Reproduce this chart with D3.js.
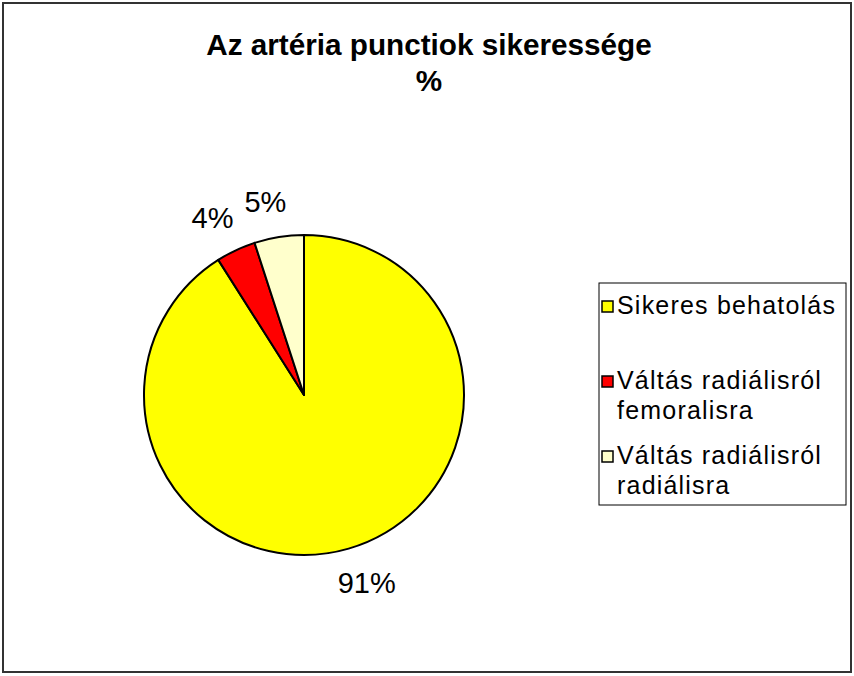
<!DOCTYPE html>
<html>
<head>
<meta charset="utf-8">
<script src="https://cdn.jsdelivr.net/npm/d3@7"></script>
<style>
  body { margin: 0; background: #fff; }
  svg { display: block; font-family: Arial, "Liberation Sans", sans-serif; }
</style>
</head>
<body>
<svg></svg>
<script>
// adatok
const categories = [ 'Sikeres behatolás', 'Váltás radiálisról femoralisra', 'Váltás radiálisról radiálisra' ]
const legendLines = [ [ 'Sikeres behatolás' ], [ 'Váltás radiálisról', 'femoralisra' ], [ 'Váltás radiálisról', 'radiálisra' ] ]
const values = [ 91, 4, 5 ]
const colors = [ '#ffff00', '#ff0000', '#ffffcc' ]
const titleLines = [ 'Az artéria punctiok sikeressége', '%' ]

const WIDTH = 854,
	HEIGHT = 676,
	cx = 304,
	cy = 395,
	radius = 160

const svg = d3.select( 'svg' )
	.attr( 'width', WIDTH )
	.attr( 'height', HEIGHT )

// keret
svg.append( 'rect' )
	.attr( 'x', 3 ).attr( 'y', 3 )
	.attr( 'width', 848 ).attr( 'height', 669 )
	.attr( 'fill', '#fff' )
	.attr( 'stroke', '#333' )
	.attr( 'stroke-width', 2 )

// cim
svg.append( 'g' )
	.selectAll( 'text' )
	.data( titleLines )
	.join( 'text' )
	.attr( 'x', 429 )
	.attr( 'y', ( d, i ) => 55 + i * 36 )
	.attr( 'text-anchor', 'middle' )
	.attr( 'font-weight', 'bold' )
	.attr( 'font-size', 29.7 )
	.text( d => d )

const pie = d3.pie().sort( null ).value( d => d )
const arcs = pie( values )
const arc = d3.arc().innerRadius( 0 ).outerRadius( radius )
const labelArc = d3.arc().innerRadius( radius + 36 ).outerRadius( radius + 36 )

const g = svg.append( 'g' ).attr( 'transform', `translate( ${cx}, ${cy} )` )

g.selectAll( 'path' )
	.data( arcs )
	.join( 'path' )
	.attr( 'd', arc )
	.attr( 'fill', ( d, i ) => colors[i] )
	.attr( 'stroke', '#000' )
	.attr( 'stroke-width', 2 )
	.attr( 'stroke-linejoin', 'round' )

// cimkek: a kozeppont kicsit a szelet oldala fele tolva
g.selectAll( 'text' )
	.data( arcs )
	.join( 'text' )
	.attr( 'transform', d => {
		const [ x, y ] = labelArc.centroid( d )
		return `translate( ${x + Math.sign( x ) * 8}, ${y} )`
	} )
	.attr( 'text-anchor', 'middle' )
	.attr( 'dy', '0.35em' )
	.attr( 'font-size', 29 )
	.text( d => Math.round( d.data ) + '%' )

// jelmagyarazat
const legend = svg.append( 'g' ).attr( 'transform', 'translate( 599, 283 )' )

legend.append( 'rect' )
	.attr( 'width', 247 ).attr( 'height', 222 )
	.attr( 'fill', '#fff' )
	.attr( 'stroke', '#000' )
	.attr( 'stroke-width', 1 )

const rowY = [ 31, 106, 181 ]

const items = legend.selectAll( 'g.item' )
	.data( categories )
	.join( 'g' )
	.attr( 'class', 'item' )
	.attr( 'transform', ( d, i ) => `translate( 0, ${rowY[i]} )` )

items.append( 'rect' )
	.attr( 'x', 3 ).attr( 'y', -13 )
	.attr( 'width', 11 ).attr( 'height', 11 )
	.attr( 'fill', ( d, i ) => colors[i] )
	.attr( 'stroke', '#000' )
	.attr( 'stroke-width', 1.5 )

items.append( 'text' )
	.attr( 'font-size', 25 )
	.attr( 'letter-spacing', 1.2 )
	.selectAll( 'tspan' )
	.data( ( d, i ) => legendLines[i] )
	.join( 'tspan' )
	.attr( 'x', 18 )
	.attr( 'dy', ( d, i ) => i === 0 ? 0 : 30 )
	.text( d => d )
</script>
</body>
</html>
